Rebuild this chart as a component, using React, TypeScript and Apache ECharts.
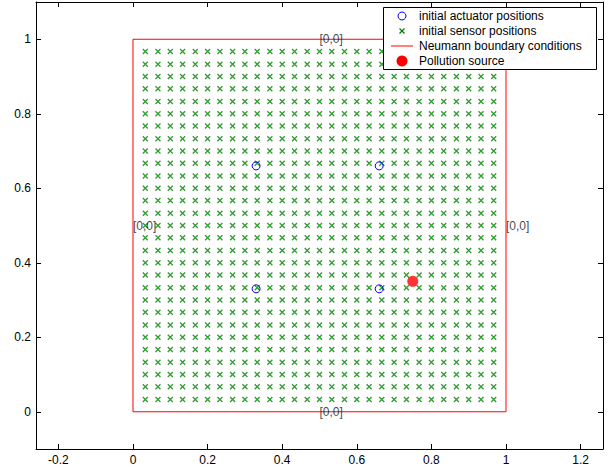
import React, { useEffect, useRef } from "react";
import * as echarts from "echarts";

// Sensor grid coordinates (used for both x and y)
const sensorCoords = [
  0.033, 0.067, 0.1, 0.133, 0.167, 0.2, 0.233, 0.267, 0.3, 0.333,
  0.367, 0.4, 0.433, 0.467, 0.5, 0.533, 0.567, 0.6, 0.633, 0.667,
  0.7, 0.733, 0.767, 0.8, 0.833, 0.867, 0.9, 0.933, 0.967,
];
const actuatorPoints: [number, number][] = [
  [0.33, 0.33],
  [0.33, 0.66],
  [0.66, 0.33],
  [0.66, 0.66],
];
const boundaryPoints: [number, number][] = [
  [0, 0],
  [1, 0],
  [1, 1],
  [0, 1],
  [0, 0],
];
const pollutionPoints: [number, number][] = [[0.75, 0.35]];
const bcLabelPoints: [number, number][] = [
  [0.5, 1],
  [0.5, 0],
  [0, 0.5],
  [1, 0.5],
];
const bcLabelText = "[0,0]";
const xTicks = [-0.2, 0, 0.2, 0.4, 0.6, 0.8, 1, 1.2];
const yTicks = [0, 0.2, 0.4, 0.6, 0.8, 1];
const legendNames = [
  "initial actuator positions",
  "initial sensor positions",
  "Neumann boundary conditions",
  "Pollution source",
];

const FONT = "'Liberation Sans', Arial, Helvetica, sans-serif";
const GREEN = "#008000";
const fmt = (v: number) => String(Math.round(v * 10) / 10);

export default function App() {
  const ref = useRef<HTMLDivElement>(null);
  useEffect(() => {
    if (!ref.current) return;
    const chart = echarts.init(ref.current, null, { renderer: "svg" });
    const sensorPoints: [number, number][] = [];
    for (const y of sensorCoords) for (const x of sensorCoords) sensorPoints.push([x, y]);

    const axisCommon = {
      type: "value" as const,
      splitLine: { show: false },
      axisLine: { show: true, onZero: false, lineStyle: { color: "#000", width: 1 } },
    };
    const xAxisBase = { ...axisCommon, min: -0.26, max: 1.26 };
    const yAxisBase = { ...axisCommon, min: -0.1, max: 1.1 };

    const L = 383.5;
    const T = 7.5;
    const R = 596.5;
    const B = 69.5;
    const rowY = [16, 31, 46, 61];
    const mx = 402;
    const tx = 419;
    const Z = 100;

    chart.setOption({
      animation: false,
      backgroundColor: "#fff",
      grid: { left: 36, right: 8, top: 2, bottom: 23 },
      xAxis: [
        {
          ...xAxisBase,
          position: "bottom",
          axisTick: { show: true, inside: true, length: 5, customValues: xTicks, lineStyle: { color: "#000" } },
          axisLabel: {
            show: true,
            customValues: xTicks,
            formatter: fmt,
            color: "#000",
            fontFamily: FONT,
            fontSize: 12,
            margin: 5,
          },
        },
        {
          ...xAxisBase,
          position: "top",
          axisTick: { show: true, inside: true, length: 5, customValues: xTicks, lineStyle: { color: "#000" } },
          axisLabel: { show: false },
        },
      ],
      yAxis: [
        {
          ...yAxisBase,
          position: "left",
          axisTick: { show: true, inside: true, length: 5, customValues: yTicks, lineStyle: { color: "#000" } },
          axisLabel: {
            show: true,
            customValues: yTicks,
            formatter: fmt,
            color: "#000",
            fontFamily: FONT,
            fontSize: 12,
            margin: 5,
          },
        },
        {
          ...yAxisBase,
          position: "right",
          axisTick: { show: true, inside: true, length: 5, customValues: yTicks, lineStyle: { color: "#000" } },
          axisLabel: { show: false },
        },
      ],
      series: [
        {
          name: legendNames[2],
          type: "line",
          data: boundaryPoints,
          symbol: "none",
          lineStyle: { color: "#ff0000", width: 1 },
          z: 2,
        },
        {
          name: legendNames[1],
          type: "scatter",
          data: sensorPoints,
          symbol: "path://M0,0L10,10M0,10L10,0",
          symbolSize: 5,
          itemStyle: { color: "none", borderColor: GREEN, borderWidth: 1.3 },
          z: 3,
        },
        {
          name: legendNames[0],
          type: "scatter",
          data: actuatorPoints,
          symbol: "circle",
          symbolSize: 8,
          itemStyle: { color: "none", borderColor: "#0000ff", borderWidth: 1, opacity: 1 },
          z: 4,
        },
        {
          name: legendNames[3],
          type: "scatter",
          data: pollutionPoints,
          symbol: "circle",
          symbolSize: 11,
          itemStyle: { color: "#ff0000" },
          z: 5,
        },
        {
          name: "bc-labels",
          type: "scatter",
          data: bcLabelPoints,
          symbolSize: 0,
          itemStyle: { color: "transparent" },
          label: {
            show: true,
            position: "right",
            distance: 0,
            formatter: () => bcLabelText,
            color: "#111",
            fontFamily: FONT,
            fontSize: 12,
          },
          z: 6,
        },
      ],
      graphic: {
        elements: [
          {
            type: "polygon",
            z: Z,
            zlevel: 0,
            shape: { points: [[L, T], [R, T], [R, B], [L, B]] },
            style: { fill: "#ffffff", stroke: "#000000", lineWidth: 1 },
          },
          {
            type: "circle",
            z: Z + 1,
            shape: { cx: mx, cy: rowY[0], r: 4 },
            style: { fill: "none", stroke: "#0000ff", lineWidth: 1 },
          },
          {
            type: "polyline",
            z: Z + 1,
            shape: { points: [[mx - 2.5, rowY[1] - 2.5], [mx + 2.5, rowY[1] + 2.5]] },
            style: { stroke: GREEN, lineWidth: 1.3, fill: "none" },
          },
          {
            type: "polyline",
            z: Z + 1,
            shape: { points: [[mx - 2.5, rowY[1] + 2.5], [mx + 2.5, rowY[1] - 2.5]] },
            style: { stroke: GREEN, lineWidth: 1.3, fill: "none" },
          },
          {
            type: "polyline",
            z: Z + 1,
            shape: { points: [[391, rowY[2]], [413, rowY[2]]] },
            style: { stroke: "#ff0000", lineWidth: 1, fill: "none" },
          },
          {
            type: "circle",
            z: Z + 1,
            shape: { cx: mx, cy: rowY[3], r: 5.5 },
            style: { fill: "#ff0000" },
          },
          ...legendNames.map((n, i) => ({
            type: "text",
            z: Z + 1,
            x: tx,
            y: rowY[i],
            style: {
              text: n,
              fill: "#000",
              font: `12px ${FONT}`,
              textAlign: "left",
              textVerticalAlign: "middle",
            },
          })),
        ],
      },
    });
    return () => chart.dispose();
  }, []);
  return (
    <div
      ref={ref}
      style={{ position: "fixed", left: 0, top: 0, width: 611, height: 472, background: "#fff" }}
    />
  );
}
